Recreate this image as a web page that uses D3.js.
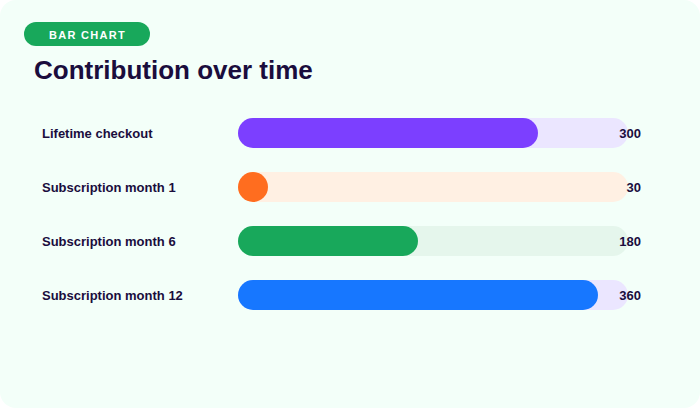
<!DOCTYPE html>
<html><head><meta charset="utf-8">
<script src="https://cdn.jsdelivr.net/npm/d3@7/dist/d3.min.js"></script>
<style>html,body{margin:0;padding:0;background:#fff;}svg{display:block;}</style>
</head><body>
<script>
const categories = ["Lifetime checkout", "Subscription month 1", "Subscription month 6", "Subscription month 12"];
const values = [300, 30, 180, 360];
const barColors = ["#7c3fff", "#ff6d1f", "#18a85b", "#1777ff"];
const trackColors = ["#ebe6ff", "#fff0e3", "#e5f6ec", "#ebe6ff"];
const domainMax = 390;

const W = 700, H = 408;
const svg = d3.select("body").append("svg").attr("width", W).attr("height", H);
svg.append("rect").attr("x", 0).attr("y", 0).attr("width", W).attr("height", H)
  .attr("rx", 16).attr("fill", "#f3fff9");

// badge
svg.append("rect").attr("x", 24).attr("y", 22).attr("width", 126).attr("height", 24)
  .attr("rx", 12).attr("fill", "#18a85b");
svg.append("text").attr("x", 87.5).attr("y", 38.5).attr("text-anchor", "middle")
  .attr("fill", "#fff").attr("font-family", "Liberation Sans, Arial, sans-serif")
  .attr("font-weight", "bold").attr("font-size", 11).attr("letter-spacing", 1.3)
  .text("BAR CHART");

svg.append("text").attr("x", 34).attr("y", 79)
  .attr("fill", "#1a0d3d").attr("font-family", "Liberation Sans, Arial, sans-serif")
  .attr("font-weight", "bold").attr("font-size", 26)
  .text("Contribution over time");

const x = d3.scaleLinear().domain([0, domainMax]).range([238, 628]);
const y = d3.scaleBand().domain(categories).range([106, 322]).paddingInner(0.444).paddingOuter(0.222);
const bh = y.bandwidth();

const rows = svg.selectAll("g.row").data(categories).join("g").attr("class", "row");
rows.append("rect").attr("x", x(0)).attr("y", d => y(d))
  .attr("width", x(domainMax) - x(0)).attr("height", bh).attr("rx", bh / 2)
  .attr("fill", (d, i) => trackColors[i]);
rows.append("rect").attr("x", x(0)).attr("y", d => y(d))
  .attr("width", (d, i) => x(values[i]) - x(0)).attr("height", bh).attr("rx", bh / 2)
  .attr("fill", (d, i) => barColors[i]);
rows.append("text").attr("x", 42).attr("y", d => y(d) + bh / 2 + 4.5)
  .attr("fill", "#1a0d3d").attr("font-family", "Liberation Sans, Arial, sans-serif")
  .attr("font-weight", "bold").attr("font-size", 13).text(d => d);
rows.append("text").attr("x", 641).attr("y", d => y(d) + bh / 2 + 4.5)
  .attr("text-anchor", "end")
  .attr("fill", "#1a0d3d").attr("font-family", "Liberation Sans, Arial, sans-serif")
  .attr("font-weight", "bold").attr("font-size", 13).text((d, i) => values[i]);
</script>
</body></html>
